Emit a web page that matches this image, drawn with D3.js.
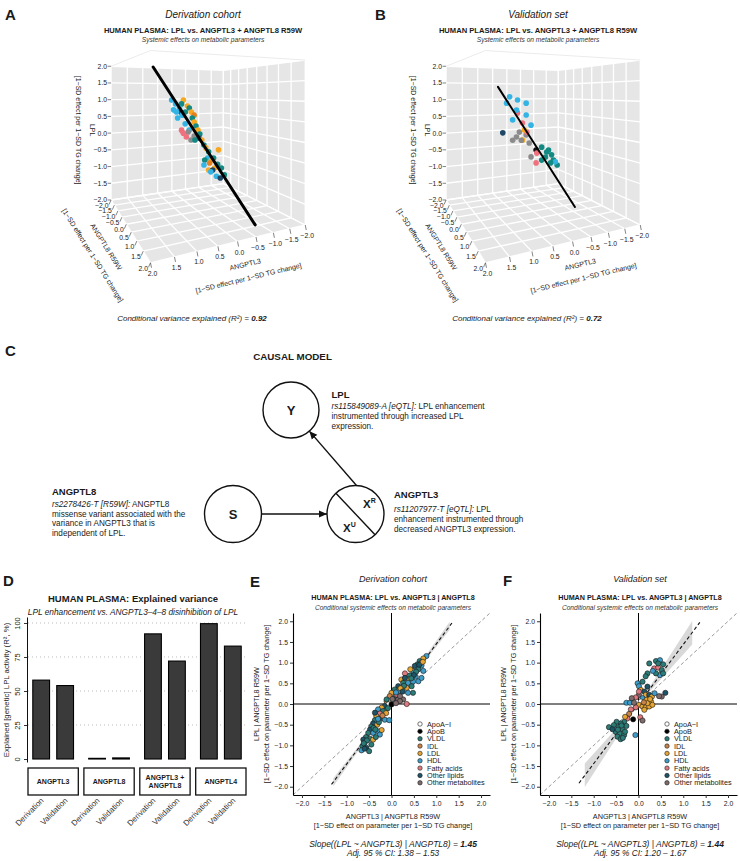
<!DOCTYPE html>
<html>
<head>
<meta charset="utf-8">
<script src="https://cdn.jsdelivr.net/npm/d3@7"></script>
<style>
  body { margin: 0; background: #fff; }
  text { font-family: "Liberation Sans", Arial, Helvetica, sans-serif; fill: #1a1a1a; }
</style>
</head>
<body>
<script>
// ---------------------------------------------------------------- data
const categories = ['ApoA−I', 'ApoB', 'VLDL', 'IDL', 'LDL', 'HDL', 'Fatty acids', 'Other lipids', 'Other metabolites'];
const colors2d = ['#ffffff', '#000000', '#2b7b77', '#c8834b', '#e6a532', '#3e9cc9', '#e07a80', '#1e5468', '#7e6b6b'];
const colors3d = ['#ffffff', '#111111', '#128a83', '#e4801e', '#f6a71f', '#33b4e4', '#f0707e', '#1f4765', '#8b8b8b'];

const axisTicks = [-2, -1.5, -1, -0.5, 0, 0.5, 1, 1.5, 2];

// panel A / B : [ANGPTL3, ANGPTL8 R59W, LPL, class]
const cloudDeriv = [
  [0.37,-1.07,0.99,'HDL'],[0.28,-0.97,0.88,'HDL'],[0.37,-0.91,0.71,'HDL'],[0.20,-0.86,0.76,'HDL'],[0.16,-0.74,0.56,'HDL'],
  [0.30,-0.76,0.48,'HDL'],[0.13,-0.59,0.32,'HDL'],[0.06,-0.46,0.15,'HDL'],[-0.11,0.15,-0.73,'HDL'],[-0.23,0.32,-0.89,'HDL'],
  [-0.34,0.44,-0.99,'HDL'],[-0.24,0.12,-0.56,'HDL'],[0.30,-0.85,0.65,'HDL'],
  [0.05,-0.91,0.99,'LDL'],[-0.03,-0.79,0.82,'LDL'],[-0.10,-0.66,0.65,'LDL'],[-0.12,-0.50,0.37,'LDL'],[-0.17,-0.35,0.15,'LDL'],
  [-0.21,-0.18,-0.11,'LDL'],[-0.26,-0.03,-0.31,'LDL'],[-0.33,0.18,-0.61,'LDL'],[-0.35,0.32,-0.80,'LDL'],[-0.19,0.27,-0.85,'LDL'],
  [-0.57,0.15,-0.36,'LDL'],
  [-0.07,-0.74,0.76,'VLDL'],[0.06,-0.74,0.65,'VLDL'],[-0.09,-0.57,0.48,'VLDL'],[-0.14,-0.42,0.26,'VLDL'],[-0.19,-0.27,0.05,'VLDL'],
  [-0.23,-0.09,-0.24,'VLDL'],[-0.31,0.05,-0.41,'VLDL'],[-0.39,0.19,-0.56,'VLDL'],[-0.45,0.31,-0.71,'VLDL'],[-0.52,0.40,-0.80,'VLDL'],
  [-0.54,0.52,-0.96,'VLDL'],[-0.16,0.10,-0.61,'VLDL'],[-0.03,-0.26,-0.11,'VLDL'],[0.12,-0.89,0.88,'VLDL'],
  [0.19,-0.80,0.65,'Other lipids'],[-0.15,-0.24,-0.06,'Other lipids'],[-0.29,0.32,-0.85,'Other lipids'],[-0.42,0.51,-1.03,'Other lipids'],
  [0.26,-0.56,0.15,'Fatty acids'],[0.17,-0.42,-0.03,'Fatty acids'],[0.23,-0.50,0.07,'Fatty acids'],
  [0.07,-0.31,-0.11,'Other metabolites'],[-0.04,-0.33,-0.01,'Other metabolites'],[0.10,-0.45,0.10,'Other metabolites'],
  [-0.16,-0.59,0.56,'IDL'],[-0.26,0.20,-0.68,'IDL']
];
const cloudValid = [
  [0.40,-0.75,1.09,'HDL'],[0.19,-0.65,1.00,'HDL'],[-0.04,-0.54,0.91,'HDL'],[0.48,-0.79,0.91,'HDL'],[0.22,-0.66,0.71,'HDL'],
  [-0.04,-0.54,0.57,'HDL'],[0.32,-0.71,0.43,'HDL'],[-0.17,-0.48,0.28,'HDL'],[-0.81,-0.16,-0.77,'HDL'],
  [0.19,-0.65,0.63,'Fatty acids'],[0.06,-0.59,0.34,'Fatty acids'],[-0.06,-0.53,0.08,'Fatty acids'],[-0.32,-0.40,-0.52,'Fatty acids'],
  [-0.30,-0.41,-0.80,'Fatty acids'],
  [0.58,-0.84,0.06,'Other lipids'],
  [0.22,-0.66,-0.06,'Other metabolites'],[0.09,-0.60,-0.15,'Other metabolites'],[-0.04,-0.54,0.00,'Other metabolites'],
  [-0.12,-0.50,-0.23,'Other metabolites'],[0.32,-0.71,-0.15,'Other metabolites'],[-0.17,-0.48,-0.63,'Other metabolites'],
  [0.14,-0.63,0.08,'Other metabolites'],
  [0.06,-0.59,-0.15,'LDL'],[0.01,-0.56,0.14,'LDL'],
  [-0.45,-0.34,-0.35,'VLDL'],[-0.58,-0.27,-0.49,'VLDL'],[-0.71,-0.21,-0.57,'VLDL'],[-0.55,-0.29,-0.63,'VLDL'],[-0.68,-0.22,-0.80,'VLDL'],
  [-0.76,-0.19,-0.72,'VLDL'],[-0.45,-0.34,-0.72,'VLDL'],[-0.63,-0.25,-0.43,'VLDL'],[-0.86,-0.14,-0.86,'VLDL'],
  [-0.30,-0.41,-0.43,'ApoB']
];
const fitDeriv = [[0.75,-1.7,2],[-0.88,1.45,-2]];
const fitValid = [[0.64,-1.09,1.38],[-1.23,0.24,-2]];
const r2Deriv = '0.92', r2Valid = '0.72';

// panel D
const dGroups = ['ANGPTL3', 'ANGPTL8', 'ANGPTL3 +|ANGPTL8', 'ANGPTL4'];
const dSets = ['Derivation', 'Validation'];
const dDeriv = [58, 0.5, 92, 99.5];
const dValid = [54, 0.8, 72, 83];
const dTicks = [0, 25, 50, 75, 100];

// panel E / F : [ANGPTL3 | ANGPTL8, LPL | ANGPTL8, class]
const scatterDeriv = [
  [0.78,1.16,'HDL'],[0.71,1.10,'LDL'],[0.63,1.04,'VLDL'],[0.58,0.96,'VLDL'],[0.67,0.93,'HDL'],[0.52,0.92,'Other lipids'],
  [0.60,0.84,'VLDL'],[0.71,0.80,'HDL'],[0.48,0.80,'HDL'],[0.30,0.74,'Fatty acids'],[0.41,0.69,'VLDL'],[0.54,0.66,'HDL'],
  [0.37,0.59,'LDL'],[0.22,0.59,'LDL'],[0.26,0.51,'VLDL'],[0.37,0.51,'HDL'],[0.48,0.54,'HDL'],[0.60,0.55,'HDL'],
  [0.67,0.63,'HDL'],[0.34,0.39,'LDL'],[0.48,0.27,'VLDL'],[0.15,0.43,'Other lipids'],[0.07,0.35,'VLDL'],[0.19,0.31,'HDL'],
  [0.00,0.27,'LDL'],[-0.04,0.19,'IDL'],[0.07,0.15,'Other lipids'],[0.15,0.11,'Other metabolites'],[0.26,0.11,'Other metabolites'],
  [0.19,0.07,'Other metabolites'],[0.34,0.00,'Fatty acids'],[0.04,0.07,'VLDL'],[-0.11,0.07,'LDL'],[-0.07,-0.01,'ApoA−I'],
  [0.00,-0.01,'ApoB'],[-0.15,-0.05,'Other lipids'],[-0.22,-0.09,'LDL'],[-0.30,-0.13,'HDL'],[-0.19,-0.17,'VLDL'],
  [-0.26,-0.23,'Fatty acids'],[-0.34,-0.29,'LDL'],[-0.22,-0.34,'Other lipids'],[-0.15,-0.38,'HDL'],[-0.05,-0.39,'HDL'],
  [-0.37,-0.39,'VLDL'],[-0.41,-0.47,'Other lipids'],[-0.32,-0.50,'LDL'],[-0.45,-0.55,'VLDL'],[-0.48,-0.62,'Other lipids'],
  [-0.30,-0.66,'HDL'],[-0.22,-0.63,'LDL'],[-0.26,-0.74,'HDL'],[-0.52,-0.70,'VLDL'],[-0.57,-0.80,'VLDL'],
  [-0.63,-0.86,'Other lipids'],[-0.48,-0.84,'VLDL'],[-0.60,-0.94,'HDL'],[-0.65,-1.02,'VLDL'],[-0.67,-1.12,'HDL'],
  [-0.56,-1.06,'Other lipids'],[-0.45,-0.98,'VLDL'],[-0.41,-0.86,'LDL'],[-0.50,-1.14,'VLDL'],[0.11,0.23,'Fatty acids'],
  [-0.11,0.11,'VLDL'],[0.37,0.27,'HDL'],[0.45,0.43,'VLDL'],[0.30,0.63,'Other lipids'],[0.67,1.00,'HDL'],[0.42,0.84,'LDL'],
  [0.19,0.19,'Other metabolites'],[-0.37,-0.21,'Other lipids'],[-0.28,-0.44,'VLDL'],[-0.41,-0.70,'HDL'],[-0.35,-0.80,'VLDL'],
  [0.55,0.78,'VLDL'],[0.50,0.70,'Other lipids'],[0.44,0.62,'VLDL'],[0.28,0.44,'VLDL'],[0.20,0.38,'LDL'],[0.10,0.28,'HDL'],
  [-0.08,-0.10,'VLDL'],[-0.12,-0.22,'LDL'],[-0.30,-0.36,'HDL'],[-0.40,-0.58,'VLDL'],[-0.55,-0.88,'VLDL'],
  [-0.60,-1.08,'Other lipids'],[-0.62,-0.95,'VLDL'],[-0.36,-0.62,'VLDL'],[0.62,0.95,'Other lipids'],[0.70,1.02,'LDL'],
  [0.02,0.12,'Other metabolites'],[0.10,0.02,'Other metabolites'],[-0.20,-0.28,'IDL'],[0.25,0.30,'Other lipids']
];
const scatterValid = [
  [0.24,0.98,'VLDL'],[0.39,1.04,'VLDL'],[0.48,1.06,'HDL'],[0.55,0.96,'VLDL'],[0.35,0.86,'Fatty acids'],[0.44,0.88,'Fatty acids'],
  [0.52,0.82,'VLDL'],[0.20,0.74,'VLDL'],[0.16,0.67,'VLDL'],[0.48,0.70,'HDL'],[0.39,0.74,'VLDL'],[0.55,0.74,'VLDL'],
  [-0.02,0.50,'HDL'],[0.01,0.43,'HDL'],[0.60,0.27,'Other lipids'],[0.52,0.18,'Other metabolites'],[0.46,0.19,'Other metabolites'],
  [0.05,0.34,'LDL'],[0.13,0.30,'Other lipids'],[0.01,0.22,'Other metabolites'],[0.16,0.22,'LDL'],[0.24,0.22,'Other lipids'],
  [0.30,0.18,'LDL'],[0.09,0.14,'HDL'],[-0.06,0.16,'Fatty acids'],[-0.15,0.14,'Other metabolites'],[0.18,0.10,'LDL'],
  [0.28,0.06,'LDL'],[0.05,0.06,'ApoA−I'],[0.01,-0.02,'LDL'],[0.09,-0.06,'LDL'],[0.16,-0.08,'LDL'],[0.24,-0.06,'LDL'],
  [0.31,-0.02,'LDL'],[0.13,-0.14,'LDL'],[-0.06,-0.08,'Fatty acids'],[-0.17,-0.13,'Fatty acids'],[-0.27,0.03,'HDL'],
  [-0.19,0.03,'HDL'],[-0.10,0.03,'Other metabolites'],[-0.21,-0.24,'IDL'],[-0.25,-0.35,'Fatty acids'],[-0.12,-0.37,'ApoB'],
  [0.04,-0.32,'Fatty acids'],[0.09,-0.40,'Other metabolites'],[-0.32,-0.43,'VLDL'],[-0.40,-0.47,'VLDL'],[-0.49,-0.43,'VLDL'],
  [-0.55,-0.51,'VLDL'],[-0.66,-0.56,'VLDL'],[-0.45,-0.56,'VLDL'],[-0.36,-0.61,'VLDL'],[-0.51,-0.67,'VLDL'],[-0.42,-0.71,'VLDL'],
  [-0.32,-0.75,'VLDL'],[-0.47,-0.79,'VLDL'],[-0.40,-0.85,'VLDL'],[-0.27,-0.53,'VLDL'],[-0.07,-0.75,'HDL'],
  [-0.58,-0.61,'Other lipids'],[-0.30,-0.67,'VLDL'],[0.01,0.30,'Fatty acids'],[0.20,0.42,'Other lipids'],[0.09,0.54,'VLDL'],
  [0.36,0.26,'HDL'],[-0.30,-0.31,'LDL'],[0.20,0.02,'LDL'],[0.26,0.12,'LDL'],[0.12,0.04,'IDL'],[-0.38,-0.52,'VLDL'],
  [-0.46,-0.62,'VLDL'],[-0.35,-0.82,'VLDL'],[0.44,0.98,'VLDL'],[0.32,0.80,'HDL']
];
// slope, lower / upper CI, fitted x-range, CI band x-range
const fitE = { slope: 1.45, lo: 1.38, hi: 1.53, from: -1.34, to: 1.35, bandFrom: -1.3, bandTo: 1.3 };
const fitF = { slope: 1.44, lo: 1.20, hi: 1.67, from: -1.33, to: 1.37, bandFrom: -1.2, bandTo: 1.2 };

// ---------------------------------------------------------------- setup
const svg = d3.select('body').append('svg')
  .attr('width', 740).attr('height', 861)
  .style('background', '#fff');

const color2d = d3.scaleOrdinal(categories, colors2d);
const color3d = d3.scaleOrdinal(categories, colors3d);
const fmt = d3.format('.1f');

const defs = svg.append('defs');
defs.append('marker').attr('id', 'head')
  .attr('viewBox', '0 0 10 10').attr('refX', 10).attr('refY', 5)
  .attr('markerWidth', 8).attr('markerHeight', 8).attr('orient', 'auto')
  .attr('markerUnits', 'userSpaceOnUse')
  .append('path').attr('d', 'M0,0.5L10,5L0,9.5Z').attr('fill', '#111');

const label = (g, x, y, txt, opt = {}) => g.append('text')
  .attr('x', x).attr('y', y).text(txt)
  .attr('font-size', opt.size || 8)
  .attr('font-weight', opt.bold ? 'bold' : null)
  .attr('font-style', opt.italic ? 'italic' : null)
  .attr('text-anchor', opt.anchor || 'start');

// panel letters
[['A', 5, 20], ['B', 375, 20], ['C', 5, 356], ['D', 3, 586], ['E', 250, 587], ['F', 503, 586]]
  .forEach(([t, x, y]) => label(svg, x, y, t, { size: 15, bold: true }));

// ---------------------------------------------------------------- 3D panels
function camera(ox) {
  const az = 64 * Math.PI / 180, R = 8.8, h = 1.2, Fx = 316, Fy = 325, cx = 198 + ox, cy = 93;
  const ca = Math.cos(az), sa = Math.sin(az);
  return ([u, v, z]) => {
    const depth = R - (u * ca + v * sa);
    return [cx + Fx * (-sa * u + ca * v) / depth, cy - Fy * (z - h) / depth, depth];
  };
}

function draw3d(ox, cloud, fit, fitWidth, cohort, r2) {
  const proj = camera(ox);
  const P = p => proj(p).slice(0, 2);
  const g = svg.append('g');
  const seg = ([a, b]) => 'M' + P(a).join(',') + 'L' + P(b).join(',');

  label(g, 203 + ox, 18, cohort, { size: 10, italic: true, anchor: 'middle' });
  label(g, 203 + ox, 33, 'HUMAN PLASMA: LPL vs. ANGPTL3 + ANGPTL8 R59W', { size: 7.6, bold: true, anchor: 'middle' });
  label(g, 203 + ox, 41.5, 'Systemic effects on metabolic parameters', { size: 6.6, italic: true, anchor: 'middle' }).style('fill', '#333');

  const panels = [
    [[2, -2, -2], [2, 2, -2], [-2, 2, -2], [-2, -2, -2]],
    [[2, -2, -2], [-2, -2, -2], [-2, -2, 2], [2, -2, 2]],
    [[-2, -2, -2], [-2, 2, -2], [-2, 2, 2], [-2, -2, 2]]
  ];
  g.selectAll('.pn').data(panels).join('path')
    .attr('d', d => 'M' + d.map(p => P(p).join(',')).join('L') + 'Z')
    .attr('fill', '#e6e6e6');

  const grid = [];
  axisTicks.forEach(t => {
    grid.push([[t, -2, -2], [t, 2, -2]], [[-2, t, -2], [2, t, -2]],
      [[t, -2, -2], [t, -2, 2]], [[-2, -2, t], [2, -2, t]],
      [[-2, t, -2], [-2, t, 2]], [[-2, -2, t], [-2, 2, t]]);
  });
  g.selectAll('.gl').data(grid).join('path').attr('d', seg)
    .attr('stroke', '#fff').attr('stroke-width', 1.3).attr('fill', 'none');

  const edges = [[[2, -2, 2], [2, 2, 2]], [[2, 2, 2], [-2, 2, 2]]];
  g.selectAll('.ed').data(edges).join('path').attr('d', seg)
    .attr('stroke', '#e2e2e2').attr('stroke-width', 0.7).attr('fill', 'none');

  // z axis (LPL) on left edge
  axisTicks.forEach(t => {
    const [x, y] = P([2, -2, t]);
    g.append('line').attr('x1', x - 3.5).attr('x2', x).attr('y1', y).attr('y2', y).attr('stroke', '#333').attr('stroke-width', 0.6);
    label(g, x - 4, y + 2.4, fmt(t), { size: 6.8, anchor: 'end' });
  });
  // ANGPTL8 axis on floor edge u = 2
  axisTicks.forEach(t => {
    const [x, y] = P([2, t, -2]);
    g.append('line').attr('x1', x).attr('x2', x - 2).attr('y1', y).attr('y2', y + 4.5).attr('stroke', '#333').attr('stroke-width', 0.6);
    label(g, x - 2.5, y + 8, fmt(t), { size: 6.8, anchor: 'end' });
  });
  // ANGPTL3 axis on floor edge v = 2
  axisTicks.forEach(t => {
    const [x, y] = P([t, 2, -2]);
    g.append('line').attr('x1', x).attr('x2', x + 1).attr('y1', y).attr('y2', y + 5).attr('stroke', '#333').attr('stroke-width', 0.6);
    label(g, x + 2, y + 13, fmt(t), { size: 6.8, anchor: 'middle' });
  });

  const axisTitle = (a, b, along, off, lines) => {
    const pa = P(a), pb = P(b);
    const dx = pb[0] - pa[0], dy = pb[1] - pa[1], len = Math.hypot(dx, dy);
    const ux = dx / len, uy = dy / len;
    const nx = -uy, ny = ux;
    const ang = Math.atan2(uy, ux) * 180 / Math.PI;
    lines.forEach((txt, i) => {
      const cx = (pa[0] + pb[0]) / 2 + ux * along + nx * off[i];
      const cy = (pa[1] + pb[1]) / 2 + uy * along + ny * off[i];
      label(g, 0, 0, txt, { size: 7, anchor: 'middle' })
        .attr('transform', `translate(${cx},${cy}) rotate(${ang})`).attr('dy', '0.35em');
    });
  };
  axisTitle([2, 2, -2], [-2, 2, -2], 12, [24, 38], ['ANGPTL3', '[1−SD effect per 1−SD TG change]']);
  axisTitle([2, -2, -2], [2, 2, -2], 0, [29, 45], ['ANGPTL8 R59W', '[1−SD effect per 1−SD TG change]']);
  axisTitle([2, -2, 2], [2, -2, -2], -3, [19, 33], ['LPL', '[1−SD effect per 1−SD TG change]']);

  // points, far to near
  const pts = cloud.map(d => ({ p: proj(d), c: d[3] })).sort((a, b) => b.p[2] - a.p[2]);
  g.selectAll('.pt').data(pts).join('circle')
    .attr('cx', d => d.p[0]).attr('cy', d => d.p[1]).attr('r', 2.8)
    .attr('fill', d => color3d(d.c));

  g.append('path').attr('d', seg(fit)).attr('stroke', '#000').attr('stroke-width', fitWidth)
    .attr('stroke-linecap', 'round');

  const t = label(g, 192 + ox, 321, '', { size: 8, italic: true, anchor: 'middle' });
  t.append('tspan').text('Conditional variance explained (R²) = ');
  t.append('tspan').attr('font-weight', 'bold').text(r2);
}

draw3d(0, cloudDeriv, fitDeriv, 3, 'Derivation cohort', r2Deriv);
draw3d(335, cloudValid, fitValid, 2, 'Validation set', r2Valid);

// ---------------------------------------------------------------- panel C
(function () {
  const g = svg.append('g');
  const T = (x, y, parts, size) => {
    const t = g.append('text').attr('x', x).attr('y', y).attr('font-size', size || 8.2);
    parts.forEach(([s, st]) => t.append('tspan').text(s)
      .attr('font-style', st === 'i' ? 'italic' : null)
      .attr('font-weight', st === 'b' ? 'bold' : null));
    return t;
  };
  T(292.5, 359.5, [['CAUSAL MODEL', 'b']], 9.8).attr('text-anchor', 'middle');

  const nodes = [{ id: 'Y', x: 291, y: 410, r: 28 }, { id: 'S', x: 233, y: 514, r: 28.5 }, { id: 'X', x: 355.5, y: 514, r: 28.5 }];
  g.selectAll('circle').data(nodes).join('circle')
    .attr('cx', d => d.x).attr('cy', d => d.y).attr('r', d => d.r)
    .attr('fill', '#fff').attr('stroke', '#111').attr('stroke-width', 1.4);
  T(291, 415, [['Y', 'b']], 13).attr('text-anchor', 'middle');
  T(233, 519, [['S', 'b']], 13).attr('text-anchor', 'middle');

  const [Y, S, X] = nodes, a = 46.7 * Math.PI / 180;
  g.append('line')
    .attr('x1', X.x - X.r * Math.cos(a)).attr('y1', X.y - X.r * Math.sin(a))
    .attr('x2', X.x + X.r * Math.cos(a)).attr('y2', X.y + X.r * Math.sin(a))
    .attr('stroke', '#111').attr('stroke-width', 1.4);
  const xr = T(363, 508, [['X', 'b']], 11.5);
  xr.append('tspan').text('R').attr('font-weight', 'bold').attr('font-size', 7).attr('dy', -5);
  const xu = T(343, 531.5, [['X', 'b']], 11.5);
  xu.append('tspan').text('U').attr('font-weight', 'bold').attr('font-size', 7).attr('dy', -5);

  // arrows between node boundaries
  const arrow = (from, to, fromPt) => {
    const p0 = fromPt || [from.x, from.y];
    const dx = to.x - p0[0], dy = to.y - p0[1], L = Math.hypot(dx, dy);
    const start = fromPt || [from.x + dx / L * from.r, from.y + dy / L * from.r];
    g.append('line').attr('x1', start[0]).attr('y1', start[1])
      .attr('x2', to.x - dx / L * to.r).attr('y2', to.y - dy / L * to.r)
      .attr('stroke', '#111').attr('stroke-width', 1.4).attr('marker-end', 'url(#head)');
  };
  arrow(S, X);
  arrow(X, Y, [X.x + 1, X.y - X.r]);

  T(331.5, 398.3, [['LPL', 'b']], 9.5);
  T(331.5, 409.3, [['rs115849089-A [eQTL]:', 'i'], [' LPL enhancement', '']]);
  T(331.5, 419.3, [['instrumented through increased LPL', '']]);
  T(331.5, 429.3, [['expression.', '']]);

  T(52, 495, [['ANGPTL8', 'b']], 9.5);
  T(52, 507, [['rs2278426-T [R59W]:', 'i'], [' ANGPTL8', '']]);
  T(52, 516.6, [['missense variant associated with the', '']]);
  T(52, 526.2, [['variance in ANGPTL3 that is', '']]);
  T(52, 535.8, [['independent of LPL.', '']]);

  T(394, 498.3, [['ANGPTL3', 'b']], 9.5);
  T(394, 511.7, [['rs11207977-T [eQTL]:', 'i'], [' LPL', '']]);
  T(394, 521.7, [['enhancement instrumented through', '']]);
  T(394, 531.7, [['decreased ANGPTL3 expression.', '']]);
})();

// ---------------------------------------------------------------- panel D
(function () {
  const g = svg.append('g');
  const y = d3.scaleLinear([-2.2, 104.4], [762, 617]);
  const fx = d3.scaleBand(dGroups, [28, 246]).paddingInner(0.1);
  const bx = d3.scaleBand(dSets, [0, fx.bandwidth()]).paddingInner(0.3).paddingOuter(0.2);

  label(g, 133, 602, 'HUMAN PLASMA: Explained variance', { size: 9.5, bold: true, anchor: 'middle' });
  label(g, 133, 614.5, 'LPL enhancement vs. ANGPTL3–4–8 disinhibition of LPL', { size: 8.3, italic: true, anchor: 'middle' });

  g.selectAll('.grid').data(dTicks.slice(1)).join('line')
    .attr('x1', 28).attr('x2', 246).attr('y1', d => y(d)).attr('y2', d => y(d))
    .attr('stroke', '#b5b5b5').attr('stroke-width', 0.9).attr('stroke-dasharray', '1,3');

  const ax = g.append('g').attr('transform', 'translate(27,0)')
    .call(d3.axisLeft(y).tickValues(dTicks).tickSize(3).tickSizeOuter(0).tickFormat(d3.format('d')));
  ax.select('.domain').attr('stroke', '#111');
  ax.selectAll('.tick line').attr('stroke', '#333');
  ax.selectAll('.tick text').attr('font-size', 7.5).attr('fill', '#333')
    .attr('font-family', '"Liberation Sans", Arial, sans-serif')
    .attr('text-anchor', 'middle').attr('x', 0).attr('dy', 0)
    .attr('transform', 'translate(-7,0) rotate(-90)');
  label(g, 0, 0, 'Explained [genetic] LPL activity (R², %)', { size: 7.8, anchor: 'middle' })
    .attr('transform', 'translate(9,690) rotate(-90)').style('fill', '#222');

  const bars = [];
  dGroups.forEach((grp, i) => {
    bars.push({ grp, set: 'Derivation', v: dDeriv[i] }, { grp, set: 'Validation', v: dValid[i] });
  });
  g.selectAll('.bar').data(bars).join('rect')
    .attr('x', d => fx(d.grp) + bx(d.set)).attr('width', bx.bandwidth())
    .attr('y', d => y(d.v)).attr('height', d => y(0) - y(d.v))
    .attr('fill', '#3a3a3a').attr('stroke', '#000').attr('stroke-width', 1.1);

  dGroups.forEach(grp => {
    const x0 = fx(grp);
    g.append('rect').attr('x', x0).attr('y', 768).attr('width', fx.bandwidth()).attr('height', 27)
      .attr('fill', '#fff').attr('stroke', '#111').attr('stroke-width', 1.3);
    const lines = grp.split('|');
    lines.forEach((s, k) => {
      const yy = lines.length === 1 ? 784 : 779.5 + k * 8.5;
      label(g, x0 + fx.bandwidth() / 2, yy, s, { size: 7, bold: true, anchor: 'middle' });
    });
    dSets.forEach(set => {
      const cx = x0 + bx(set) + bx.bandwidth() / 2 + 3;
      label(g, 0, 0, set, { size: 8, anchor: 'end' })
        .attr('transform', `translate(${cx},801) rotate(-45)`).style('fill', '#333');
    });
  });
})();

// ---------------------------------------------------------------- panels E / F
function drawScatter(x0, pts, fit, cohort) {
  const g = svg.append('g');
  const x = d3.scaleLinear([-2.2, 2.2], [x0, x0 + 197]);
  const y = d3.scaleLinear([-2.2, 2.2], [795, 613]);
  const cxm = x0 + 100;

  label(g, cxm, 581.5, cohort, { size: 9, italic: true, anchor: 'middle' });
  label(g, cxm, 599.5, 'HUMAN PLASMA: LPL vs. ANGPTL3 | ANGPTL8', { size: 7.2, bold: true, anchor: 'middle' });
  label(g, cxm, 609.5, 'Conditional systemic effects on metabolic parameters', { size: 6.6, italic: true, anchor: 'middle' }).style('fill', '#333');

  g.append('line').attr('x1', x(-2.2)).attr('y1', y(-2.2)).attr('x2', x(2.2)).attr('y2', y(2.2))
    .attr('stroke', '#999').attr('stroke-width', 1).attr('stroke-dasharray', '3.5,2.5');

  const band = [fit.bandFrom, 0, fit.bandTo];
  g.append('path').datum(band)
    .attr('d', d3.area().x(d => x(d))
      .y0(d => y(Math.min(fit.lo * d, fit.hi * d)))
      .y1(d => y(Math.max(fit.lo * d, fit.hi * d))))
    .attr('fill', '#cfcfcf').attr('opacity', 0.8);

  g.append('line').attr('x1', x0).attr('x2', x0 + 197).attr('y1', y(0)).attr('y2', y(0)).attr('stroke', '#000').attr('stroke-width', 1);
  g.append('line').attr('x1', x(0)).attr('x2', x(0)).attr('y1', 613).attr('y2', 795).attr('stroke', '#000').attr('stroke-width', 1);

  g.append('line').attr('x1', x(fit.from)).attr('y1', y(fit.slope * fit.from))
    .attr('x2', x(fit.to)).attr('y2', y(fit.slope * fit.to))
    .attr('stroke', '#111').attr('stroke-width', 1.1).attr('stroke-dasharray', '3.5,2.5');

  g.selectAll('.pt').data(pts).join('circle')
    .attr('cx', d => x(d[0])).attr('cy', d => y(d[1])).attr('r', 2.6)
    .attr('fill', d => color2d(d[2])).attr('stroke', '#1a1a1a').attr('stroke-width', 0.6);

  const style = a => {
    a.select('.domain').attr('stroke', '#000').attr('stroke-width', 1.1);
    a.selectAll('.tick line').attr('stroke', '#333');
    a.selectAll('.tick text').attr('font-size', 6.8).attr('fill', '#333')
      .attr('font-family', '"Liberation Sans", Arial, sans-serif');
  };
  g.append('g').attr('transform', 'translate(0,795)')
    .call(d3.axisBottom(x).tickValues(axisTicks).tickFormat(fmt).tickSize(3).tickSizeOuter(0).tickPadding(3)).call(style);
  g.append('g').attr('transform', `translate(${x0},0)`)
    .call(d3.axisLeft(y).tickValues(axisTicks).tickFormat(fmt).tickSize(3).tickSizeOuter(0).tickPadding(2)).call(style);

  label(g, cxm, 819, 'ANGPTL3  |  ANGPTL8 R59W', { size: 7.3, anchor: 'middle' }).style('fill', '#222');
  label(g, cxm, 827.5, '[1−SD effect on parameter per 1−SD TG change]', { size: 7.3, anchor: 'middle' }).style('fill', '#222');
  label(g, 0, 0, 'LPL  |  ANGPTL8 R59W', { size: 7.3, anchor: 'middle' })
    .attr('transform', `translate(${x0 - 34},704) rotate(-90)`).style('fill', '#222');
  label(g, 0, 0, '[1−SD effect on parameter per 1−SD TG change]', { size: 7.3, anchor: 'middle' })
    .attr('transform', `translate(${x0 - 24.5},704) rotate(-90)`).style('fill', '#222');

  // legend
  const lg = g.append('g').attr('transform', `translate(${x0 + 127},724)`);
  categories.forEach((c, i) => {
    lg.append('circle').attr('cx', 0).attr('cy', i * 7.35).attr('r', 2.2)
      .attr('fill', color2d(c)).attr('stroke', '#1a1a1a').attr('stroke-width', 0.6);
    label(lg, 7, i * 7.35 + 2.6, c, { size: 7.3 }).style('fill', '#222');
  });

  const s = label(g, cxm, 846.5, '', { size: 8.5, italic: true, anchor: 'middle' });
  s.append('tspan').text('Slope((LPL ~ ANGPTL3) | ANGPTL8) = ');
  s.append('tspan').attr('font-weight', 'bold').text(fit.slope.toFixed(2));
  label(g, cxm, 856, `Adj. 95 % CI: ${fit.lo.toFixed(2)} – ${fit.hi.toFixed(2)}`, { size: 8.3, italic: true, anchor: 'middle' });
}

drawScatter(293, scatterDeriv, fitE, 'Derivation cohort');
drawScatter(540, scatterValid, fitF, 'Validation set');
</script>
</body>
</html>
